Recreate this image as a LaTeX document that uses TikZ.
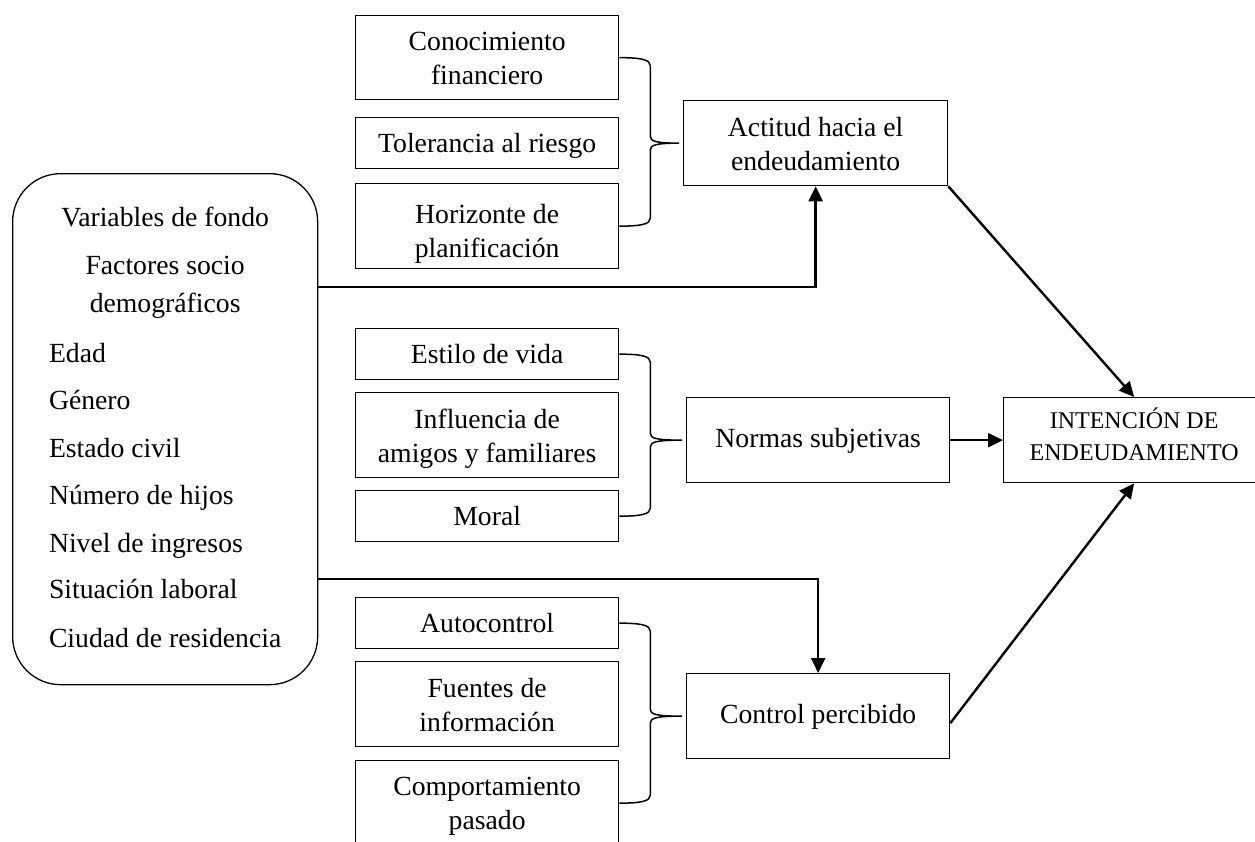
\documentclass[tikz,border=0pt]{standalone}
\usepackage{fontspec}
\setmainfont{Liberation Serif}
\usetikzlibrary{arrows.meta,calc}
\newcommand\mainfs{\fontsize{27.7pt}{34pt}\selectfont}
\newcommand\intfs{\fontsize{24pt}{32pt}\selectfont}
\newcommand\tl[1]{\begin{tabular}[t]{@{}c@{}}#1\end{tabular}}
\newcommand\mybrace[3]{%
  \draw[br] let \p1=(#1.east), \p2=(#2.east), \p3=(#3.west) in
    (\x1,\y1) .. controls (\x1+22pt,\y1) and (\x1+31pt,\y1-2pt) .. (\x1+31pt,\y1-8pt)
    -- (\x1+31pt,\y3+7pt) .. controls (\x1+31pt,\y3+2pt) and (\x1+36pt,\y3) .. (\x3-4pt,\y3)
    .. controls (\x1+36pt,\y3) and (\x1+31pt,\y3-2pt) .. (\x1+31pt,\y3-7pt)
    -- (\x2+31pt,\y2+8pt) .. controls (\x2+31pt,\y2+2pt) and (\x2+22pt,\y2) .. (\x2,\y2);}
\tikzset{
  box/.style={draw, line width=1.3pt, rectangle, inner sep=0pt, anchor=north west,
    minimum width=263pt, font=\mainfs},
  br/.style={draw, line width=1.5pt},
  arr/.style={draw, line width=2.4pt, -{Triangle[length=15pt,width=14pt]}},
}
\begin{document}
\begin{tikzpicture}[x=1pt,y=-1pt]
\useasboundingbox (0,0) rectangle (1255,841);
\clip (0,0) rectangle (1255,841);

% left rounded box
\node[box, minimum width=305pt, rounded corners=48pt, text height=52.7pt, text depth=458.3pt] (big) at (12,173)
 {\begin{tabular}[t]{@{}l@{}}
  \multicolumn{1}{@{}c@{}}{Variables de fondo}\\[14pt]
  \multicolumn{1}{@{}c@{}}{Factores socio}\\[4pt]
  \multicolumn{1}{@{}c@{}}{demográficos}\\[16pt]
  Edad\\[13pt]
  Género\\[14pt]
  Estado civil\\[13pt]
  Número de hijos\\[14pt]
  Nivel de ingresos\\[12pt]
  Situación laboral\\[15pt]
  Ciudad de residencia
 \end{tabular}};

% top group
\node[box, text height=35pt, text depth=49pt] (con) at (355,15) {\tl{Conocimiento\\financiero}};
\node[box, text height=35pt, text depth=16pt] (tol) at (355,117) {\tl{Tolerancia al riesgo}};
\node[box, text height=40pt, text depth=45pt] (hor) at (355,183) {\tl{Horizonte de\\planificación}};
\node[box, minimum width=264pt, text height=36pt, text depth=49pt] (act) at (683,100) {\tl{Actitud hacia el\\endeudamiento}};

% middle group
\node[box, text height=35pt, text depth=16pt] (est) at (355,328) {\tl{Estilo de vida}};
\node[box, text height=36pt, text depth=49pt] (inf) at (355,392) {\tl{Influencia de\\amigos y familiares}};
\node[box, text height=35pt, text depth=16pt] (mor) at (355,490) {\tl{Moral}};
\node[box, text height=50pt, text depth=35pt] (nor) at (686,397) {\tl{Normas subjetivas}};

% right box
\node[box, minimum width=261pt, font=\intfs, text height=31pt, text depth=54pt] (intn) at (1003,397) {\tl{INTENCIÓN DE\\ENDEUDAMIENTO}};

% bottom group
\node[box, text height=35pt, text depth=16pt] (aut) at (355,597) {\tl{Autocontrol}};
\node[box, text height=36pt, text depth=49pt] (fue) at (355,661) {\tl{Fuentes de\\información}};
\node[box, text height=35pt, text depth=50pt] (com) at (355,760) {\tl{Comportamiento\\pasado}};
\node[box, text height=50pt, text depth=35pt] (ctl) at (686,673) {\tl{Control percibido}};

% braces
\mybrace{con}{hor}{act}
\mybrace{est}{mor}{nor}
\mybrace{aut}{com}{ctl}

% arrows
\draw[arr] ($(big.north east)+(0,114)$) -| (act.south);
\draw[arr] ($(big.north east)+(0,406)$) -| (ctl.north);
\draw[arr] (act.south east) -- (intn.north);
\draw[arr] (nor.east) -- (intn.west);
\draw[arr] ($(ctl.east)+(0,7)$) -- (intn.south);
\end{tikzpicture}
\end{document}
